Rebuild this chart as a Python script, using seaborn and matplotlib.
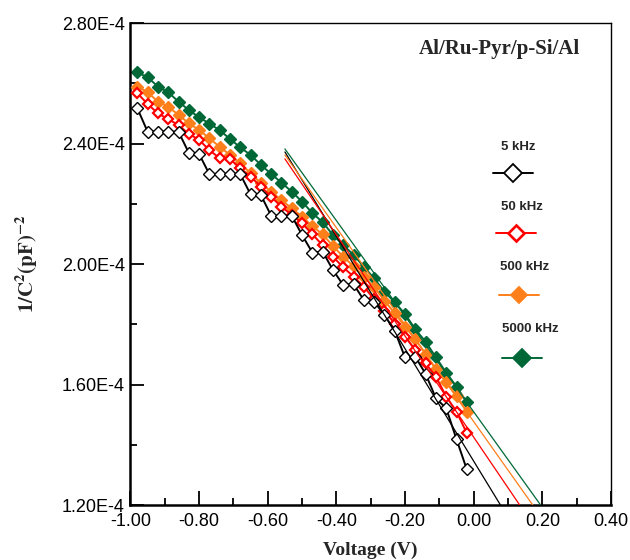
"""
Mott-Schottky plot (1/C^2 vs V) for the Al/Ru-Pyr/p-Si/Al diode at four frequencies,
with the linear fits drawn as thin lines.
"""

import numpy as np
import pandas as pd
import matplotlib
matplotlib.use("Agg")
import matplotlib.pyplot as plt
import seaborn as sns
from matplotlib.ticker import MultipleLocator, FuncFormatter


# bias voltage (V), same grid for every frequency
voltage = [-0.98, -0.95, -0.92, -0.89, -0.86, -0.83, -0.80, -0.77, -0.74, -0.71,
           -0.68, -0.65, -0.62, -0.59, -0.56, -0.53, -0.50, -0.47, -0.44, -0.41,
           -0.38, -0.35, -0.32, -0.29, -0.26, -0.23, -0.20, -0.17, -0.14, -0.11,
           -0.08, -0.05, -0.02]

# 1/C^2 in units of 1E-4 pF^-2
inv_c2_5k = [2.517, 2.439, 2.439, 2.439, 2.439, 2.369, 2.365, 2.298, 2.298, 2.298,
             2.298, 2.231, 2.229, 2.160, 2.160, 2.160, 2.096, 2.038, 2.041, 1.980,
             1.930, 1.933, 1.880, 1.875, 1.831, 1.778, 1.690, 1.692, 1.635, 1.554,
             1.521, 1.418, 1.318]
inv_c2_50k = [2.567, 2.531, 2.500, 2.481, 2.461, 2.432, 2.412, 2.378, 2.351, 2.348,
              2.318, 2.290, 2.257, 2.223, 2.190, 2.163, 2.135, 2.099, 2.062, 2.024,
              1.989, 1.958, 1.925, 1.883, 1.845, 1.802, 1.759, 1.715, 1.670, 1.626,
              1.560, 1.510, 1.438]
inv_c2_500k = [2.589, 2.570, 2.539, 2.522, 2.495, 2.467, 2.445, 2.417, 2.389, 2.362,
               2.334, 2.301, 2.268, 2.240, 2.212, 2.185, 2.157, 2.126, 2.098, 2.060,
               2.024, 1.993, 1.958, 1.923, 1.878, 1.837, 1.792, 1.750, 1.701, 1.650,
               1.609, 1.562, 1.510]
inv_c2_5000k = [2.636, 2.620, 2.589, 2.570, 2.539, 2.511, 2.487, 2.466, 2.444, 2.415,
                2.387, 2.362, 2.329, 2.299, 2.270, 2.240, 2.207, 2.169, 2.139, 2.096,
                2.063, 2.030, 1.991, 1.952, 1.908, 1.873, 1.834, 1.783, 1.742, 1.690,
                1.639, 1.593, 1.541]

labels = ["5 kHz", "50 kHz", "500 kHz", "5000 kHz"]
colors = ["black", "#FF0000", "#FF7F1A", "#006837"]

# linear fits: end points (V, 1/C^2 in 1E-4)
fit_v_start = [-0.55, -0.55, -0.55, -0.55]
fit_v_end = [0.078, 0.134, 0.172, 0.195]
fit_y_start = [2.372, 2.349, 2.362, 2.382]
fit_y_end = [1.20, 1.20, 1.20, 1.20]


def main():
    sns.set_style("ticks")
    plt.rcParams["font.family"] = ["Liberation Sans", "DejaVu Sans"]
    plt.rcParams["mathtext.fontset"] = "stix"

    fig = plt.figure(figsize=(6.3, 5.6), dpi=100)
    ax = fig.add_axes([0.2071, 0.0982, 0.7627, 0.8607])

    series = [inv_c2_5k, inv_c2_50k, inv_c2_500k, inv_c2_5000k]
    # marker styles per frequency: (facecolor, edge width, size)
    mstyle = [("white", 1.0, 6.5), ("white", 1.6, 5.5),
              (colors[2], 1.0, 6.0), (colors[3], 1.0, 6.0)]
    zorders = [5, 4, 3, 2]

    for vals, col, (fc, mew, ms), z in zip(series, colors, mstyle, zorders):
        df = pd.DataFrame({"V": voltage, "y": vals})
        sns.lineplot(data=df, x="V", y="y", ax=ax, color=col, lw=1.4,
                     marker="D", markersize=ms, markerfacecolor=fc,
                     markeredgecolor=col, markeredgewidth=mew,
                     sort=False, estimator=None, zorder=z)

    for i, col in enumerate(colors):
        df = pd.DataFrame({"V": [fit_v_start[i], fit_v_end[i]],
                           "y": [fit_y_start[i], fit_y_end[i]]})
        sns.lineplot(data=df, x="V", y="y", ax=ax, color=col, lw=0.9,
                     sort=False, estimator=None, zorder=6)

    ax.set_xlim(-1.0, 0.4)
    ax.set_ylim(1.2, 2.8)
    ax.xaxis.set_major_locator(MultipleLocator(0.2))
    ax.xaxis.set_minor_locator(MultipleLocator(0.1))
    ax.yaxis.set_major_locator(MultipleLocator(0.4))
    ax.yaxis.set_minor_locator(MultipleLocator(0.2))
    ax.xaxis.set_major_formatter(FuncFormatter(lambda v, p: f"{v:.2f}"))
    ax.yaxis.set_major_formatter(FuncFormatter(lambda v, p: f"{v:.2f}E-4"))

    ax.tick_params(which="both", direction="in", top=False, right=False,
                   width=1.3, colors="black", labelsize=13)
    ax.tick_params(which="major", length=10)
    ax.tick_params(axis="x", which="major", pad=6)
    ax.tick_params(axis="y", which="major", pad=4)
    ax.tick_params(which="minor", length=5)

    for side in ["left", "bottom"]:
        ax.spines[side].set_linewidth(1.8)
    for side in ["top", "right"]:
        ax.spines[side].set_visible(True)
        ax.spines[side].set_linewidth(1.0)
    for sp in ax.spines.values():
        sp.set_color("black")

    ax.set_xlabel("Voltage (V)", fontsize=14, fontweight="bold",
                  family="Liberation Serif", labelpad=8)
    ax.set_ylabel(r"$\mathbf{1/C^{2}(pF)^{-2}}$", fontsize=15, labelpad=16)

    ax.text(0.935, 0.947, "Al/Ru-Pyr/p-Si/Al", transform=ax.transAxes,
            ha="right", va="center", fontsize=15, fontweight="bold",
            family="Liberation Serif")

    # hand-placed legend: label above a line + marker sample
    leg_text_y = [0.743, 0.618, 0.494, 0.365]
    leg_text_x = [0.771, 0.771, 0.769, 0.773]
    leg_line_y = [0.689, 0.564, 0.436, 0.305]
    leg_line_x0 = [0.754, 0.761, 0.767, 0.773]
    leg_sizes = [9, 8.5, 8.5, 9.5]
    for i in range(4):
        fc, mew, _ = mstyle[i]
        ax.text(leg_text_x[i], leg_text_y[i], labels[i], transform=ax.transAxes,
                ha="left", va="center", fontsize=9.5, fontweight="bold")
        x0 = leg_line_x0[i]
        ax.plot([x0, x0 + 0.084], [leg_line_y[i]] * 2, color=colors[i], lw=1.4,
                transform=ax.transAxes, clip_on=False)
        ax.plot([x0 + 0.042], [leg_line_y[i]], marker="D", ms=leg_sizes[i],
                mfc=fc, mec=colors[i], mew=mew + 0.3, transform=ax.transAxes,
                clip_on=False, ls="none")

    fig.savefig("out.png", dpi=100)
    plt.close(fig)


if __name__ == "__main__":
    main()
